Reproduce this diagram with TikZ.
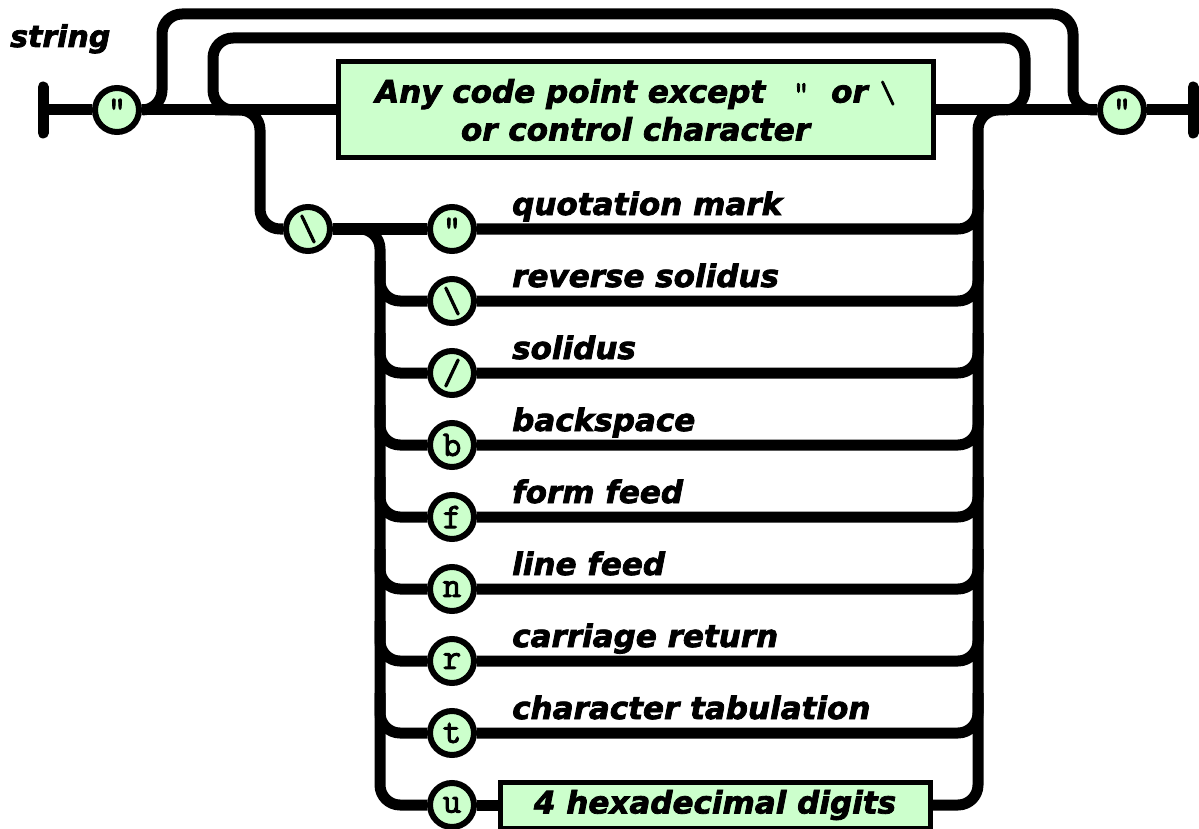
\documentclass[tikz,border=0pt]{standalone}
\usepackage{fontspec}
\setmainfont{DejaVu Sans}[BoldItalicFeatures={FakeBold=2.5}]
\newfontfamily\monof{Latin Modern Mono}[FakeBold=2.5]
\definecolor{boxgreen}{HTML}{CCFFCC}
\newcommand\labf{\bfseries\itshape\fontsize{31}{38}\selectfont}
\newcommand\monosym[1]{{\monof\upshape\mdseries\fontsize{31}{31}\selectfont #1}}
\tikzset{
  rail/.style={line width=11pt, rounded corners=20pt, line cap=butt, line join=round},
  plain/.style={line width=11pt},
  term/.style={circle, draw, line width=6pt, fill=boxgreen, minimum size=44pt, inner sep=0pt,
    font=\monof\fontsize{36}{36}\selectfont},
  rect/.style={draw, line width=5pt, fill=boxgreen, inner sep=0pt, font=\labf},
  lbl/.style={anchor=base west, inner sep=0pt, font=\labf},
  barline/.style={line width=11pt, line cap=round},
}
\begin{document}
\begin{tikzpicture}[x=1pt,y=-1pt]
\useasboundingbox (0,0) rectangle (1199,829);

% title
\node[anchor=base west, inner sep=0pt, font=\bfseries\itshape\fontsize{30}{36}\selectfont] (title) at (10,47) {string};

% terminals of main line
\coordinate (lbarT) at (43,87);
\coordinate (lbarB) at (43,133);
\coordinate (lbarM) at (43,110);
\coordinate (rbarT) at (1193,87);
\coordinate (rbarB) at (1193,133);
\coordinate (rbarM) at (1193,110);

\node[term] (q1) at (117,110) {"};
\node[term] (q2) at (1122,110) {"};
\node[rect, minimum width=595pt, minimum height=96pt, align=center] (any) at (635.5,110)
  {Any code point except\hspace{28pt}\monosym{"}\hspace{22pt}or\hspace{12pt}\monosym{\textbackslash}\\or control character};

\node[term] (esc) at (308,229) {\textbackslash};

\foreach \k/\ch/\txt in {0/{"}/quotation mark, 1/\textbackslash/reverse solidus, 2/{/}/solidus,
   3/b/backspace, 4/f/form feed, 5/n/line feed, 6/r/carriage return, 7/t/character tabulation}{
  \pgfmathsetmacro\yy{229+72*\k}
  \node[term] (c\k) at (452,\yy) {\ch};
  \node[lbl] (l\k) at (512,\yy-14) {\txt};
}
\node[term] (cu) at (452,805) {u};
\node[rect, minimum width=430pt, minimum height=46pt] (hex) at (715,805) {4 hexadecimal digits};

% bars
\draw[barline] (lbarT) -- (lbarB);
\draw[barline] (rbarT) -- (rbarB);
\draw[plain] (lbarM) -- (q1.west);
\draw[plain] (q2.east) -- (rbarM);

% main line
\draw[plain] (q1.east) -- (any.west);
\draw[plain] (any.east) -- (q2.west);

% outer bypass loop
\draw[rail] (q1.east) -- (162,110) -- (162,14) -- (1073,14) -- (1073,110) -- (q2.west);
% inner repeat loop
\draw[rail] (1005,110) -- (1025,110) -- (1025,38) -- (213,38) -- (213,110) -- (240,110);

% escape branch
\draw[rail] (215,110) -- (260,110) -- (260,229) -- (esc.west);
\draw[plain] (esc.east) -- (c0.west);
\draw[rail] (355,229) -- (380,229) -- (380,805) -- (cu.west);
\draw[plain] (cu.east) -- (hex.west);
\draw[rail] (hex.east) -- (978,805) -- (978,110) -- (1005,110);
\draw[rail] (c0.east) -- (978,229) -- (978,190);
\foreach \k in {1,...,7}{
  \pgfmathsetmacro\yy{229+72*\k}
  \draw[rail] (380,\yy-40) -- (380,\yy) -- (c\k.west);
  \draw[rail] (c\k.east) -- (978,\yy) -- (978,\yy-40);
}
\end{tikzpicture}
\end{document}
